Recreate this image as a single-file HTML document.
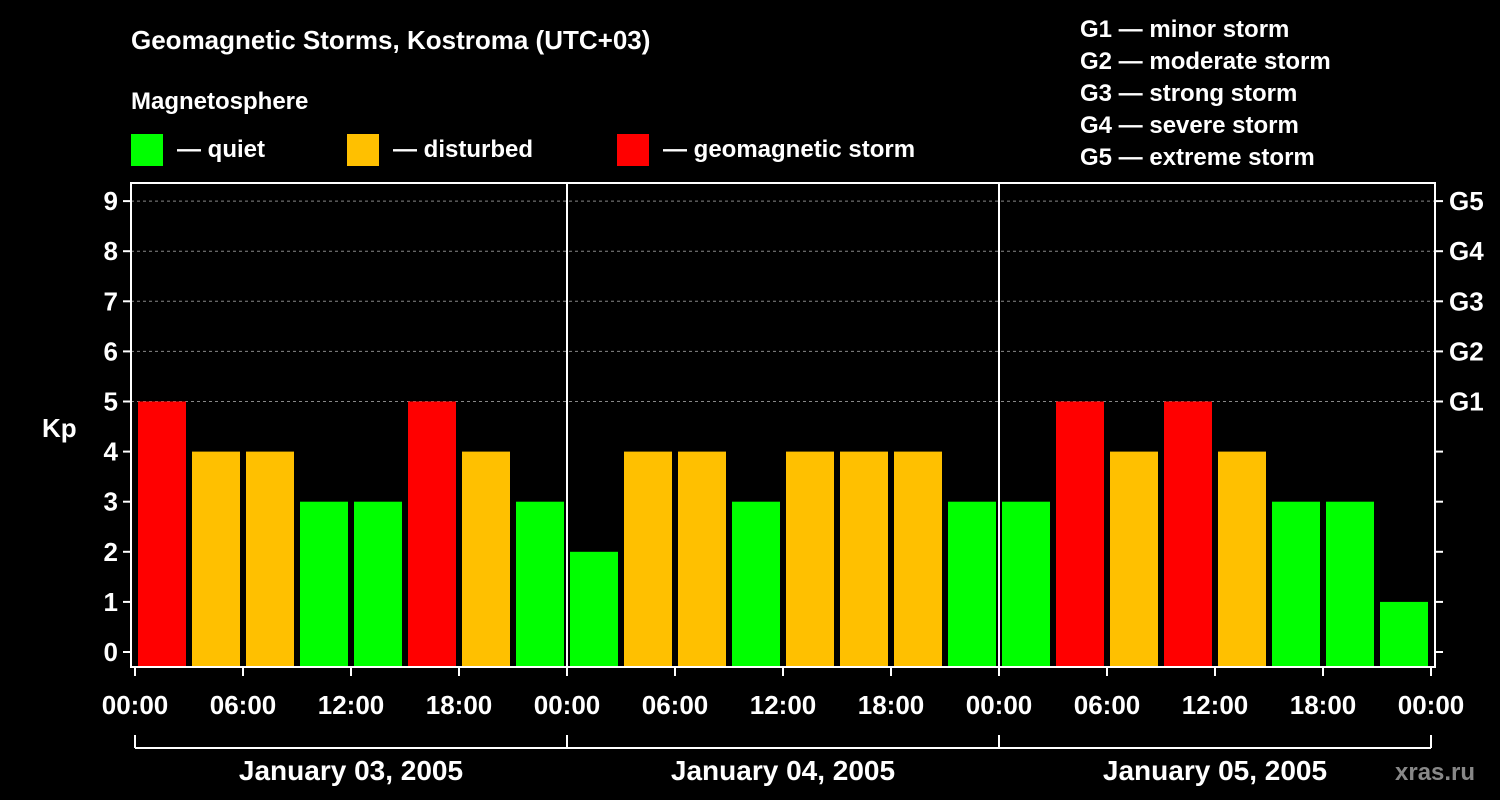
<!DOCTYPE html>
<html><head><meta charset="utf-8"><style>
html,body{margin:0;padding:0;background:#000;}
svg{display:block;font-family:"Liberation Sans",Arial,sans-serif;font-weight:bold;}
</style></head><body>
<svg id="chart" width="1500" height="800" viewBox="0 0 1500 800" xmlns="http://www.w3.org/2000/svg">
<rect x="0" y="0" width="1500" height="800" fill="#000"/>
<text x="131" y="49" fill="#fff" font-size="26">Geomagnetic Storms, Kostroma (UTC+03)</text>
<text x="131" y="109" fill="#fff" font-size="24">Magnetosphere</text>
<g><rect x="131" y="134" width="32" height="32" fill="#00ff00"/><text x="177" y="157" fill="#fff" font-size="24">— quiet</text></g>
<g><rect x="347" y="134" width="32" height="32" fill="#ffc000"/><text x="393" y="157" fill="#fff" font-size="24">— disturbed</text></g>
<g><rect x="617" y="134" width="32" height="32" fill="#ff0000"/><text x="663" y="157" fill="#fff" font-size="24">— geomagnetic storm</text></g>
<g fill="#fff" font-size="24">
<text x="1080" y="37">G1 — minor storm</text>
<text x="1080" y="69">G2 — moderate storm</text>
<text x="1080" y="101">G3 — strong storm</text>
<text x="1080" y="133">G4 — severe storm</text>
<text x="1080" y="165">G5 — extreme storm</text>
</g>
<g id="grid"></g>
<g id="bars"></g>
<g id="axes"></g>
<text x="42" y="437" fill="#fff" font-size="26">Kp</text>
<text x="1395" y="780" fill="#888" font-size="24">xras.ru</text>
</svg>
<script>
const kpValues = [5,4,4,3,3,5,4,3, 2,4,4,3,4,4,4,3, 3,5,4,5,4,3,3,1];
const dayLabels = ["January 03, 2005","January 04, 2005","January 05, 2005"];
const hourLabels = ["00:00","06:00","12:00","18:00"];
const yTicks = [0,1,2,3,4,5,6,7,8,9];
const gLabels = ["G1","G2","G3","G4","G5"];

const NS="http://www.w3.org/2000/svg";
const X0=135, DAYW=432, Y0=652, UNIT=50.1, TOP=183, BOT=667, LEFT=131, RIGHT=1435;
function xh(h){return X0+h*DAYW/24;}
function yk(v){return Y0-v*UNIT;}
function mk(tag,attrs,parent,txt){const e=document.createElementNS(NS,tag);for(const k in attrs)e.setAttribute(k,attrs[k]);if(txt!==undefined)e.textContent=txt;parent.appendChild(e);return e;}
function color(v){return v>=5?"#ff0000":(v>=4?"#ffc000":"#00ff00");}
const grid=document.getElementById('grid'),bars=document.getElementById('bars'),axes=document.getElementById('axes');

yTicks.forEach(v=>{ if(v>=5){const l=mk('line',{x1:LEFT,x2:RIGHT,y1:yk(v),y2:yk(v),stroke:'#888','stroke-dasharray':'3,3','stroke-width':1},grid);

}});

kpValues.forEach((v,i)=>{
 const x=xh(i*3)+3, w=DAYW/8-6;
 const r=mk('rect',{x:x,y:yk(v),width:w,height:BOT-yk(v),fill:color(v)},bars);
 
 
});

const frame=mk('rect',{x:LEFT,y:TOP,width:RIGHT-LEFT,height:BOT-TOP,fill:'none',stroke:'#fff','stroke-width':2},axes);



yTicks.forEach(v=>{
 mk('line',{x1:LEFT-8,x2:LEFT,y1:yk(v),y2:yk(v),stroke:'#fff','stroke-width':2},axes);
 mk('line',{x1:RIGHT,x2:RIGHT+8,y1:yk(v),y2:yk(v),stroke:'#fff','stroke-width':2},axes);
 const t=mk('text',{x:LEFT-13,y:yk(v)+9,fill:'#fff','font-size':26,'text-anchor':'end'},axes,String(v));
 
 
});
gLabels.forEach((g,i)=>{
 const t=mk('text',{x:RIGHT+14,y:yk(5+i)+9,fill:'#fff','font-size':26},axes,g);
 
 
});

for(let d=0;d<dayLabels.length;d++){
 if(d>0){const l=mk('line',{x1:xh(d*24),x2:xh(d*24),y1:TOP,y2:BOT,stroke:'#fff','stroke-width':2},axes);
 
 }
 const t=mk('text',{x:xh(d*24+12),y:780,fill:'#fff','font-size':28,'text-anchor':'middle'},axes,dayLabels[d]);
 
 
}
for(let h=0;h<=72;h+=6){
 mk('line',{x1:xh(h),x2:xh(h),y1:BOT,y2:BOT+9,stroke:'#fff','stroke-width':2},axes);
 const t=mk('text',{x:xh(h),y:714,fill:'#fff','font-size':26,'text-anchor':'middle'},axes,hourLabels[(h/6)%4]);
 
 
}
const br=mk('line',{x1:xh(0),x2:xh(72),y1:748,y2:748,stroke:'#fff','stroke-width':2},axes);


for(let d=0;d<=3;d++) mk('line',{x1:xh(d*24),x2:xh(d*24),y1:735,y2:748,stroke:'#fff','stroke-width':2},axes);
</script>
</body></html>
